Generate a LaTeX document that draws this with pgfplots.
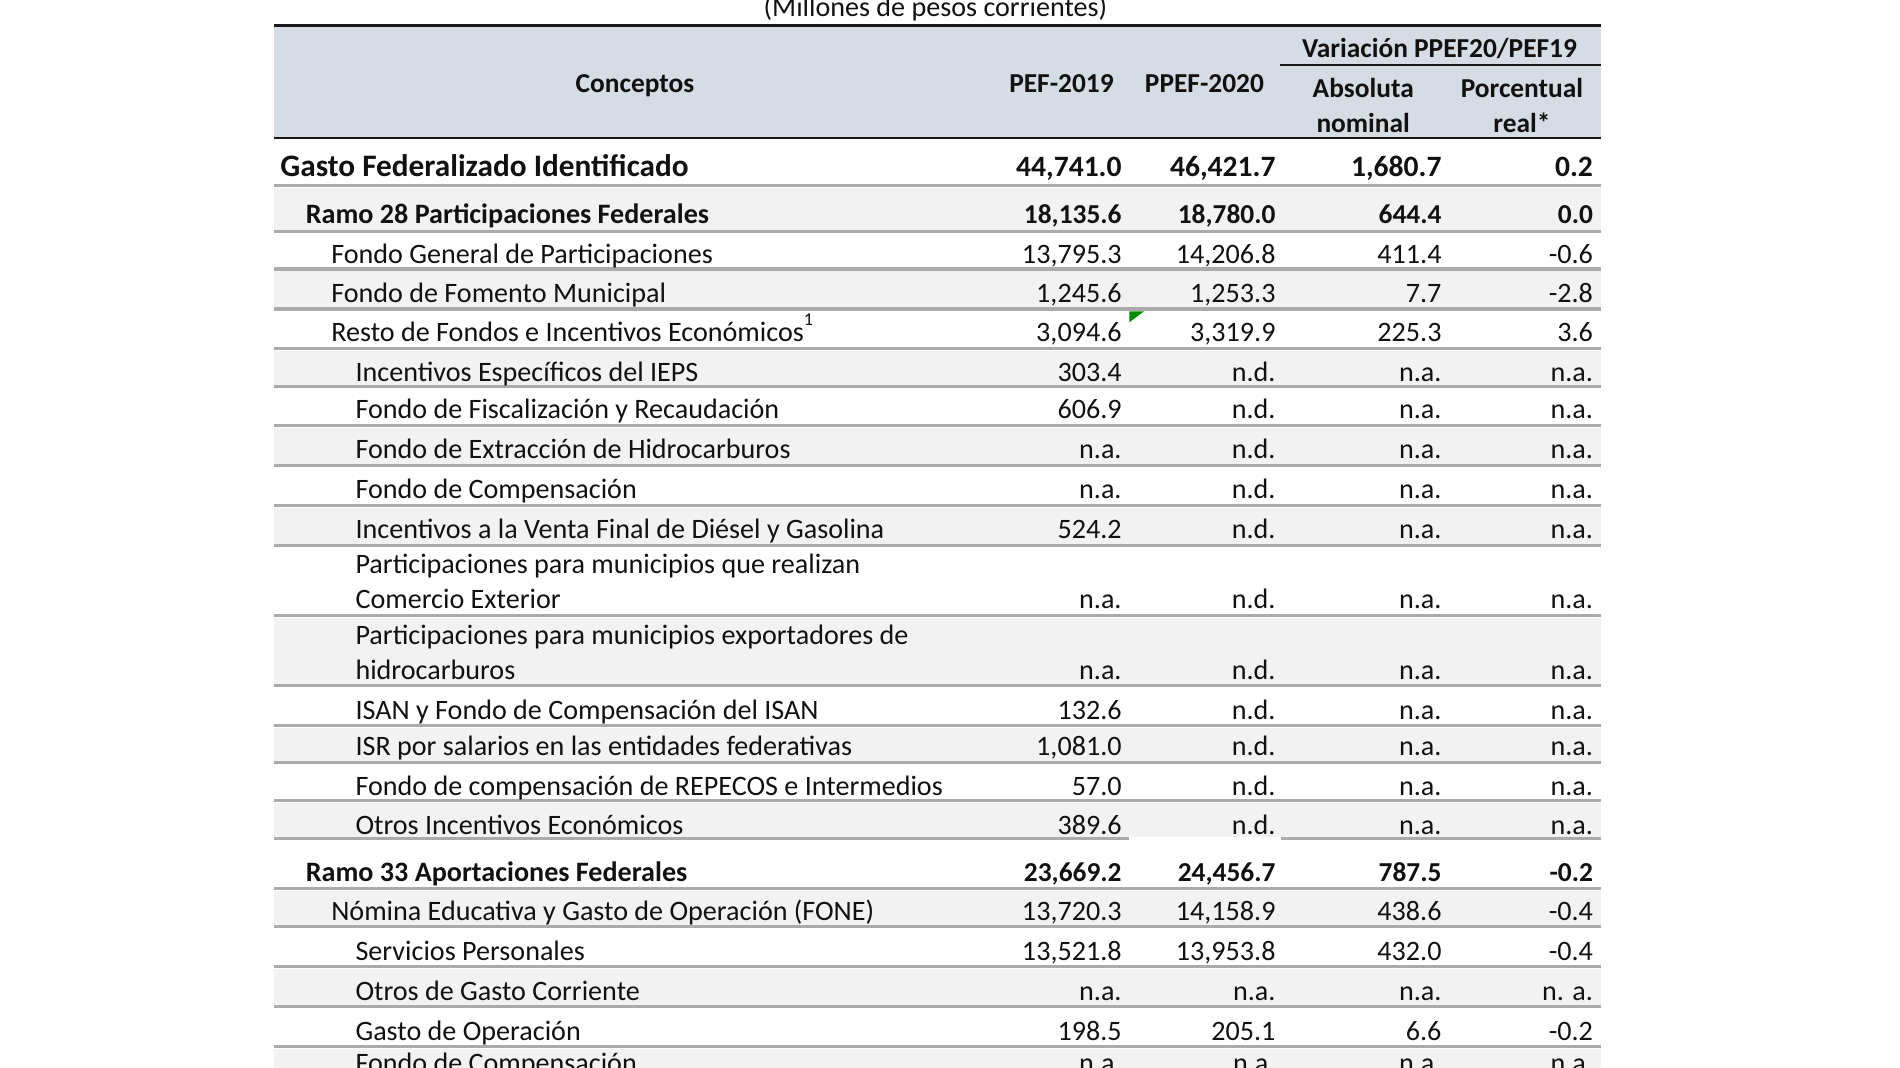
\documentclass[border=0pt]{standalone}
\usepackage{pgfplots}
\pgfplotsset{compat=1.18}
\usepackage{fontspec}
\setmainfont{Carlito}
\definecolor{hdr}{HTML}{D6DCE4}
\definecolor{rowg}{HTML}{F2F2F2}
\definecolor{sepc}{HTML}{ABABAB}
\definecolor{txt}{HTML}{111111}
\newcommand{\bodyf}{\fontsize{11.6}{14}\selectfont}
\newcommand{\bigf}{\fontsize{12.9}{15}\selectfont\bfseries}
\newcommand{\bignf}{\fontsize{12.2}{15}\selectfont\bfseries}
\tikzset{tn/.style={inner sep=0pt,text=txt,yshift=-0.5pt}}
% label: x, baseline, text
\newcommand{\lab}[3]{\node[tn,anchor=base west,font=\bodyf] at (axis cs:#1,#2) {#3};}
\newcommand{\blab}[3]{\node[tn,anchor=base west,font=\bodyf\bfseries] at (axis cs:#1,#2) {#3};}
% numbers: baseline, four values
\newcommand{\nums}[5]{%
\node[tn,anchor=base east,font=\bodyf] at (axis cs:926,#1) {#2};
\node[tn,anchor=base east,font=\bodyf] at (axis cs:1053,#1) {#3};
\node[tn,anchor=base east,font=\bodyf] at (axis cs:1190,#1) {#4};
\node[tn,anchor=base east,font=\bodyf] at (axis cs:1315,#1) {#5};}
\newcommand{\bnums}[5]{%
\node[tn,anchor=base east,font=\fontsize{11.3}{14}\selectfont\bfseries] at (axis cs:926,#1) {#2};
\node[tn,anchor=base east,font=\fontsize{11.3}{14}\selectfont\bfseries] at (axis cs:1053,#1) {#3};
\node[tn,anchor=base east,font=\fontsize{11.3}{14}\selectfont\bfseries] at (axis cs:1190,#1) {#4};
\node[tn,anchor=base east,font=\fontsize{11.3}{14}\selectfont\bfseries] at (axis cs:1315,#1) {#5};}
\newcommand{\gband}[2]{\fill[rowg] (axis cs:226,#1) rectangle (axis cs:1321,#2);}
\newcommand{\sep}[1]{\draw[sepc,line width=1.25pt] (axis cs:226,#1) -- (axis cs:1321,#1);}
\begin{document}
\begin{tikzpicture}
\begin{axis}[width=784pt,height=440.5pt,scale only axis,
  xmin=0,xmax=1568,ymin=0,ymax=881,y dir=reverse,hide axis,clip=false]
\coordinate (TL) at (axis cs:0,0);
\coordinate (BR) at (axis cs:1568,881);
% header background
\fill[hdr] (axis cs:226,22) rectangle (axis cs:1321,113);
% grey bands
\gband{155}{190}
\gband{224}{254}
\gband{290}{318}
\gband{353}{383}
\gband{419}{449}
\gband{510}{565}
\gband{601}{628}
\gband{663}{691}
\gband{735}{764}
\gband{800}{830}
\gband{866}{881}
% separators
\draw[sepc,line width=1.5pt] (axis cs:226,153) -- (axis cs:1321,153);
\sep{191}\sep{222}\sep{255}\sep{288}\sep{319}\sep{351}\sep{384}\sep{417}\sep{450}
\sep{508}\sep{566}\sep{599}\sep{629}\sep{661}
\draw[sepc,line width=1.25pt] (axis cs:226,692) -- (axis cs:932,692);
\draw[sepc,line width=1.25pt] (axis cs:1057,692) -- (axis cs:1321,692);
\sep{733}\sep{765}\sep{798}\sep{831}\sep{864}
% header rules
\draw[black!90,line width=1.1pt] (axis cs:226,21) -- (axis cs:1321,21);
\draw[black!90,line width=1.1pt] (axis cs:226,114) -- (axis cs:1321,114);
\draw[black!90,line width=0.8pt] (axis cs:1056,54) -- (axis cs:1321,54);
% title
\node[tn,anchor=base,font=\bodyf] at (axis cs:772,13) {(Millones de pesos corrientes)};
% header texts
\node[tn,anchor=base,font=\fontsize{11.3}{14}\selectfont\bfseries] at (axis cs:524,75.5) {Conceptos};
\node[tn,anchor=base,font=\fontsize{11.3}{14}\selectfont\bfseries] at (axis cs:876,75.5) {PEF-2019};
\node[tn,anchor=base,font=\fontsize{11.3}{14}\selectfont\bfseries] at (axis cs:994,75.5) {PPEF-2020};
\node[tn,anchor=base,font=\fontsize{11.3}{14}\selectfont\bfseries] at (axis cs:1188,46.5) {Variación PPEF20/PEF19};
\node[tn,anchor=base,font=\fontsize{11.3}{14}\selectfont\bfseries] at (axis cs:1125,79.5) {Absoluta};
\node[tn,anchor=base,font=\fontsize{11.3}{14}\selectfont\bfseries] at (axis cs:1125,108.5) {nominal};
\node[tn,anchor=base,font=\fontsize{11.3}{14}\selectfont\bfseries] at (axis cs:1256,79.5) {Porcentual};
\node[tn,anchor=base,font=\fontsize{11.3}{14}\selectfont\bfseries] at (axis cs:1256,108.5) {real*};
% total row
\node[tn,anchor=base west,font=\bigf] at (axis cs:231,145) {Gasto Federalizado Identificado};
\node[tn,anchor=base east,font=\bignf] at (axis cs:926,145) {44,741.0};
\node[tn,anchor=base east,font=\bignf] at (axis cs:1053,145) {46,421.7};
\node[tn,anchor=base east,font=\bignf] at (axis cs:1190,145) {1,680.7};
\node[tn,anchor=base east,font=\bignf] at (axis cs:1315,145) {0.2};
% Ramo 28
\blab{252}{183.5}{Ramo 28 Participaciones Federales}
\bnums{183.5}{18,135.6}{18,780.0}{644.4}{0.0}
\lab{273}{216.5}{Fondo General de Participaciones}
\nums{216.5}{13,795.3}{14,206.8}{411.4}{-0.6}
\lab{273}{248.5}{Fondo de Fomento Municipal}
\nums{248.5}{1,245.6}{1,253.3}{7.7}{-2.8}
\lab{273}{280.5}{Resto de Fondos e Incentivos Económicos\raisebox{0.55em}{\fontsize{7.5}{8}\selectfont 1}}
\nums{280.5}{3,094.6}{3,319.9}{225.3}{3.6}
\fill[green!55!black] (axis cs:932,257) -- (axis cs:944,257) -- (axis cs:932,266) -- cycle;
\lab{293}{313.5}{Incentivos Específicos del IEPS}
\nums{313.5}{303.4}{n.d.}{n.a.}{n.a.}
\lab{293}{344.5}{Fondo de Fiscalización y Recaudación}
\nums{344.5}{606.9}{n.d.}{n.a.}{n.a.}
\lab{293}{377.5}{Fondo de Extracción de Hidrocarburos}
\nums{377.5}{n.a.}{n.d.}{n.a.}{n.a.}
\lab{293}{410.5}{Fondo de Compensación}
\nums{410.5}{n.a.}{n.d.}{n.a.}{n.a.}
\lab{293}{443.5}{Incentivos a la Venta Final de Diésel y Gasolina}
\nums{443.5}{524.2}{n.d.}{n.a.}{n.a.}
\lab{293}{472.5}{Participaciones para municipios que realizan}
\lab{293}{501.5}{Comercio Exterior}
\nums{501.5}{n.a.}{n.d.}{n.a.}{n.a.}
\lab{293}{530.5}{Participaciones para municipios exportadores de}
\lab{293}{559.5}{hidrocarburos}
\nums{559.5}{n.a.}{n.d.}{n.a.}{n.a.}
\lab{293}{592.5}{ISAN y Fondo de Compensación del ISAN}
\nums{592.5}{132.6}{n.d.}{n.a.}{n.a.}
\lab{293}{622.5}{ISR por salarios en las entidades federativas}
\nums{622.5}{1,081.0}{n.d.}{n.a.}{n.a.}
\lab{293}{655.5}{Fondo de compensación de REPECOS e Intermedios}
\nums{655.5}{57.0}{n.d.}{n.a.}{n.a.}
\lab{293}{687.5}{Otros Incentivos Económicos}
\nums{687.5}{389.6}{n.d.}{n.a.}{n.a.}
% Ramo 33
\blab{252}{726.5}{Ramo 33 Aportaciones Federales}
\bnums{726.5}{23,669.2}{24,456.7}{787.5}{-0.2}
\lab{273}{758.5}{Nómina Educativa y Gasto de Operación (FONE)}
\nums{758.5}{13,720.3}{14,158.9}{438.6}{-0.4}
\lab{293}{791.5}{Servicios Personales}
\nums{791.5}{13,521.8}{13,953.8}{432.0}{-0.4}
\lab{293}{824.5}{Otros de Gasto Corriente}
\nums{824.5}{n.a.}{n.a.}{n.a.}{n. a.}
\lab{293}{857.5}{Gasto de Operación}
\nums{857.5}{198.5}{205.1}{6.6}{-0.2}
\lab{293}{884.5}{Fondo de Compensación}
\nums{884.5}{n.a.}{n.a.}{n.a.}{n.a.}
\end{axis}
\pgfresetboundingbox
\path[use as bounding box] (TL) rectangle (BR);
\end{tikzpicture}
\end{document}
